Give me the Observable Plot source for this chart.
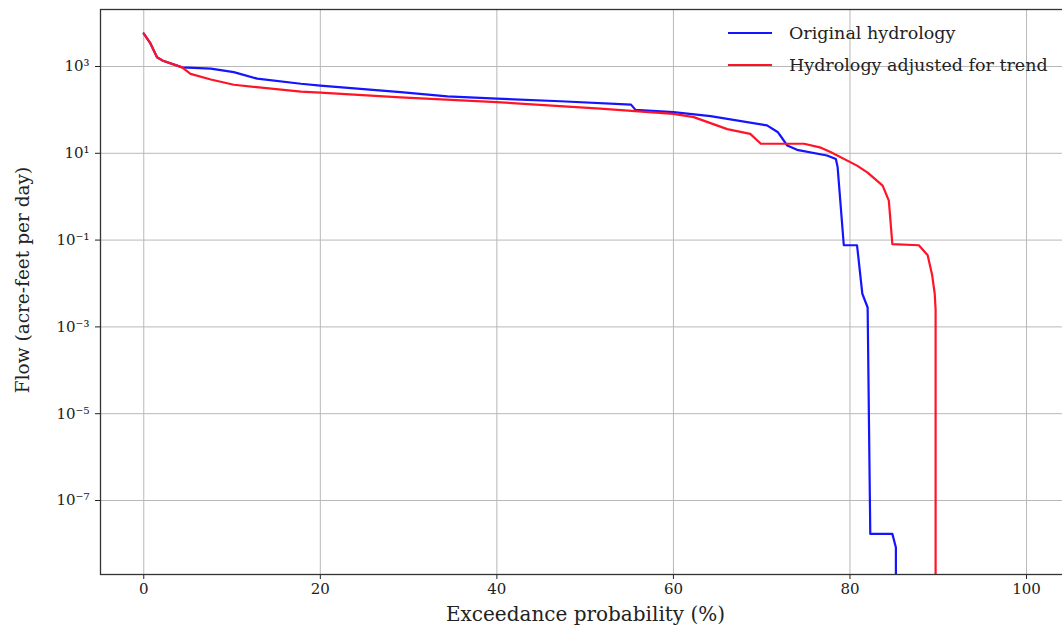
<!DOCTYPE html>
<html><head><meta charset="utf-8">
<script src="https://cdn.jsdelivr.net/npm/d3@7"></script>
<script src="https://cdn.jsdelivr.net/npm/@observablehq/plot@0.6"></script>
<style>
html,body{margin:0;padding:0;background:#fff;overflow:hidden;}
#wrap{position:relative;width:1062px;height:638px;overflow:hidden;}
#chart svg{max-width:none !important;height:638px !important;}
#legend{position:absolute;left:728px;top:17px;font-family:"DejaVu Serif",serif;font-size:17.5px;color:#222;}
.row{display:flex;align-items:center;height:32px;}
.sw{width:44px;height:2.5px;margin-right:17px;}
</style></head>
<body><div id="wrap"><div id="chart"></div><div id="legend"></div></div>
<script>
// Exceedance probability (%) and flow (acre-feet per day)
const seriesNames = ["Original hydrology", "Hydrology adjusted for trend"];
const seriesColors = ["#1414ff", "#ff1426"];

const xOriginal = [0, 0.76, 1.5, 2.1, 4.35, 7.6, 10.2, 12.85, 17.8, 20, 29.1, 34.4, 40, 47.2, 55.2, 55.7, 60, 64.2, 70.6, 71.8, 72.1, 72.9, 74.0, 77.4, 78.4, 78.6, 79.3, 80.8, 81.4, 82.0, 82.3, 84.8, 85.2, 85.2];
const flowOriginal = [5750, 3400, 1630, 1380, 955, 890, 740, 525, 400, 363, 257, 204, 182, 158, 132, 100, 89, 72, 44, 31, 25.7, 15.1, 12.0, 8.9, 7.4, 4.8, 0.076, 0.076, 0.0058, 0.0028, 1.7e-8, 1.7e-8, 8.3e-9, 1e-10];

const xAdjusted = [0, 0.76, 1.5, 2.1, 4.35, 5.3, 7.6, 10.2, 17.8, 20, 29.1, 40, 51.7, 60, 62.3, 66.1, 68.7, 69.9, 74.8, 76.7, 77.8, 80.8, 82.0, 83.7, 84.4, 84.8, 87.8, 88.8, 89.3, 89.6, 89.7, 89.7];
const flowAdjusted = [5750, 3400, 1630, 1380, 955, 676, 501, 380, 263, 251, 195, 151, 107, 81, 68, 36, 28, 16.6, 16.6, 13.5, 10.7, 5.2, 3.6, 1.8, 0.81, 0.081, 0.076, 0.045, 0.016, 0.0058, 0.0025, 1e-10];

const xTicks = [0, 20, 40, 60, 80, 100];
const yTicks = [1e3, 1e1, 1e-1, 1e-3, 1e-5, 1e-7];

const rows = [
  ...xOriginal.map((x, i) => ({x, flow: flowOriginal[i], series: seriesNames[0]})),
  ...xAdjusted.map((x, i) => ({x, flow: flowAdjusted[i], series: seriesNames[1]}))
];

const sup = {"0":"⁰","1":"¹","2":"²","3":"³","4":"⁴","5":"⁵","6":"⁶","7":"⁷","8":"⁸","9":"⁹","-":"⁻"};
const fmtPow = v => "10" + String(Math.round(Math.log10(v))).split("").map(c => sup[c]).join("");

const chart = Plot.plot({
  width: 1070,
  height: 638,
  marginLeft: 100,
  marginRight: 0,
  marginTop: 9,
  marginBottom: 64,
  style: {fontFamily: "DejaVu Serif, serif", fontSize: "15px", color: "#222", background: "#fff", maxWidth: "none"},
  x: {domain: [-4.9, 104.98]},
  y: {type: "log", domain: [Math.pow(10, -8.705), Math.pow(10, 4.313)]},
  color: {domain: seriesNames, range: seriesColors},
  marks: [
    Plot.gridX(xTicks, {stroke: "#b8b8b8", strokeOpacity: 1, strokeWidth: 1}),
    Plot.gridY(yTicks, {stroke: "#b8b8b8", strokeOpacity: 1, strokeWidth: 1}),
    Plot.axisX(xTicks, {tickSize: 5, tickPadding: 4, label: null, fontSize: 15}),
    Plot.axisY(yTicks, {tickSize: 5, tickPadding: 6, label: null, tickFormat: fmtPow, fontSize: 15}),
    Plot.line(rows, {x: "x", y: "flow", z: "series", stroke: "series", strokeWidth: 2.2, clip: true, curve: "linear"}),
    Plot.frame({stroke: "#333", strokeWidth: 1.3}),
    Plot.text(["Exceedance probability (%)"], {frameAnchor: "bottom", dy: 46, fontSize: 20, fill: "#222"}),
    Plot.text(["Flow (acre-feet per day)"], {frameAnchor: "left", textAnchor: "middle", rotate: -90, dx: -77, dy: -12, fontSize: 18.5, fill: "#222"})
  ]
});
document.getElementById("chart").appendChild(chart);

const legend = document.getElementById("legend");
seriesNames.forEach((name, i) => {
  const row = document.createElement("div");
  row.className = "row";
  const sw = document.createElement("div");
  sw.className = "sw";
  sw.style.background = seriesColors[i];
  const t = document.createElement("span");
  t.textContent = name;
  row.appendChild(sw); row.appendChild(t);
  legend.appendChild(row);
});
</script>
</body></html>
